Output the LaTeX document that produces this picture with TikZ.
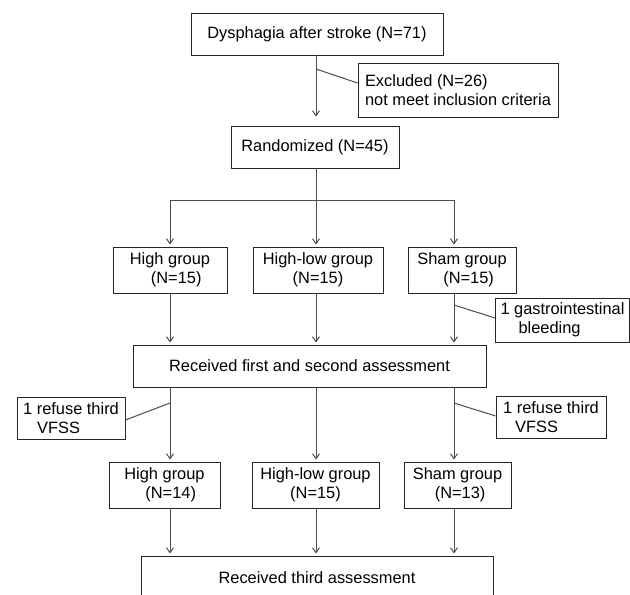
\documentclass[tikz,border=0pt]{standalone}
\usepackage{fontspec}
\setmainfont{Liberation Sans}
\usetikzlibrary{arrows.meta,calc}
\begin{document}
\begin{tikzpicture}[x=1pt,y=-1pt,
 box/.style={draw=black!85, line width=0.9pt, inner sep=0pt, align=left, font=\fontsize{16.4}{19}\selectfont},
 cbox/.style={box, align=center},
 conn/.style={draw=black!70, line width=1pt},
 arr/.style={conn, -{Straight Barb[length=5pt,width=7pt]}, shorten >=2pt}]
\useasboundingbox (0,0) rectangle (630,595);
\fill[white] (0,0) rectangle (630,595);
% columns
\coordinate (cL) at (170,0);
\coordinate (cM) at (316,0);
\coordinate (cR) at (454,0);
% nodes
\node[box, minimum width=252pt, minimum height=42pt] (top) at (317,34) {Dysphagia after stroke (N=71)};
\node[box, minimum width=200pt, minimum height=54pt] (excl) at (458,90) {Excluded (N=26)\\not meet inclusion criteria};
\node[box, minimum width=168pt, minimum height=42pt] (rand) at (315,147) {Randomized (N=45)};
\node[box, minimum width=114pt, minimum height=46pt] (high1) at (170,270) {High group\\\hspace*{21pt}(N=15)};
\node[cbox, minimum width=130pt, minimum height=46pt] (hl1) at (318,270) {High-low group\\(N=15)};
\node[box, minimum width=108pt, minimum height=46pt] (sham1) at (462,270) {Sham group\\\hspace*{26pt}(N=15)};
\node[box, minimum width=134pt, minimum height=44pt] (gastro) at (562.5,320) {1 gastrointestinal\\\hspace*{18pt}bleeding};
\node[cbox, minimum width=353pt, minimum height=42pt] (assess) at (309.5,366) {Received first and second assessment};
\node[box, minimum width=108pt, minimum height=42pt] (refL) at (71,418) {1 refuse third\\\hspace*{14pt}VFSS};
\node[box, minimum width=110pt, minimum height=42pt] (refR) at (551,417) {1 refuse third\\\hspace*{12pt}VFSS};
\node[box, minimum width=111pt, minimum height=46pt] (high2) at (164.5,485) {High group\\\hspace*{21pt}(N=14)};
\node[cbox, minimum width=127pt, minimum height=46pt] (hl2) at (315.5,485) {High-low group\\(N=15)};
\node[box, minimum width=107pt, minimum height=46pt] (sham2) at (457.5,485) {Sham group\\\hspace*{22pt}(N=13)};
\node[cbox, minimum width=352pt, minimum height=44pt] (final) at (317,578) {Received third assessment};
% top trunk
\draw[arr, shorten >=9pt] (top.south -| cM) -- (rand.north -| cM);
\coordinate (e1) at (316,69);
\draw[conn] (e1) -- ($(excl.west)+(0,-7)$);
% split
\coordinate (sp) at (316,200);
\draw[conn] (rand.south -| cM) -- (sp);
\draw[conn] (cL |- sp) -- (cR |- sp);
\draw[arr] (cL |- sp) -- (cL |- high1.north);
\draw[arr] (sp) -- (cM |- hl1.north);
\draw[arr] (cR |- sp) -- (cR |- sham1.north);
% row1 to assessment
\draw[arr] (cL |- high1.south) -- (cL |- assess.north);
\draw[arr] (cM |- hl1.south) -- (cM |- assess.north);
\draw[arr] (cR |- sham1.south) -- (cR |- assess.north);
\coordinate (g1) at (454,305);
\draw[conn] (g1) -- ($(gastro.west)+(0,-2)$);
% assessment to row2
\draw[arr] (cL |- assess.south) -- (cL |- high2.north);
\draw[arr] (cM |- assess.south) -- (cM |- hl2.north);
\draw[arr] (cR |- assess.south) -- (cR |- sham2.north);
\coordinate (rl) at (170,403);
\coordinate (rr) at (454,403);
\draw[conn] (rl) -- ($(refL.east)+(0,2)$);
\draw[conn] (rr) -- ($(refR.west)+(0,-1)$);
% row2 to final
\draw[arr] (cL |- high2.south) -- (cL |- final.north);
\draw[arr] (cM |- hl2.south) -- (cM |- final.north);
\draw[arr] (cR |- sham2.south) -- (cR |- final.north);
\end{tikzpicture}
\end{document}
